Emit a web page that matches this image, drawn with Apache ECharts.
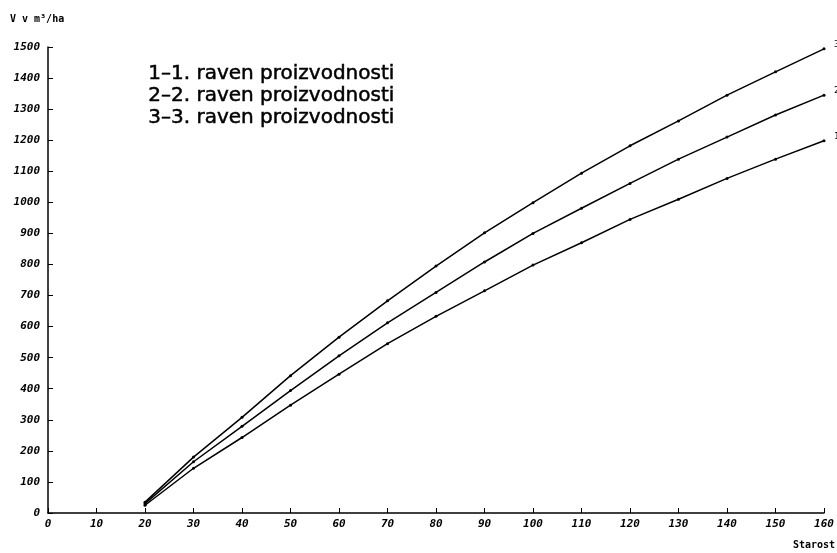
<!DOCTYPE html>
<html>
<head>
<meta charset="utf-8">
<script src="https://cdn.jsdelivr.net/npm/echarts@6/dist/echarts.min.js"></script>
<style>
html, body { margin: 0; padding: 0; background: #fff; }
#chart { width: 837px; height: 553px; }
</style>
</head>
<body>
<div id="chart"></div>
<script>
// starost (leta)
var ages = [20, 30, 40, 50, 60, 70, 80, 90, 100, 110, 120, 130, 140, 150, 160];
// lesna zaloga V v m3/ha po ravneh proizvodnosti
var raven1 = [25, 144, 243, 347, 447, 545, 633, 715, 798, 870, 945, 1010, 1077, 1139, 1198];
var raven2 = [30, 165, 279, 394, 506, 612, 710, 808, 900, 981, 1061, 1139, 1210, 1281, 1345];
var raven3 = [35, 180, 308, 442, 566, 683, 795, 902, 999, 1094, 1182, 1262, 1345, 1420, 1494];
var legendLines = ['1\u20131. raven proizvodnosti', '2\u20132. raven proizvodnosti', '3\u20133. raven proizvodnosti'];

var chart = echarts.init(document.getElementById('chart'));

var tickFont = {
	fontFamily : 'DejaVu Sans Mono',
	fontStyle : 'italic',
	fontWeight : 'bold',
	fontSize : 11,
	color : '#000'
};

function pairs(vals) {
	var out = [];
	for (var i = 0; i < ages.length; i++) {
		out.push([ages[i], vals[i]]);
	}
	return out;
}

function makeSeries(name, vals) {
	return {
		name : name,
		type : 'line',
		data : pairs(vals),
		symbol : 'circle',
		symbolSize : 3,
		smooth : false,
		itemStyle : { color : '#000' },
		lineStyle : { color : '#000', width : 1.5 },
		endLabel : {
			show : true,
			formatter : name,
			offset : [2, -4],
			fontFamily : 'DejaVu Sans Mono',
			fontSize : 9,
			color : '#000'
		},
		animation : false
	};
}

option = {
	backgroundColor : '#fff',
	grid : {
		left : 48,
		right : 13,
		top : 47,
		bottom : 40
	},
	xAxis : {
		type : 'value',
		min : 0,
		max : 160,
		interval : 10,
		axisLine : { lineStyle : { color : '#000', width : 1.5 } },
		axisTick : { inside : true, length : 5, lineStyle : { color : '#000' } },
		splitLine : { show : false },
		axisLabel : Object.assign({ margin : 6, formatter : function (v) { return String(v); } }, tickFont)
	},
	yAxis : {
		type : 'value',
		min : 0,
		max : 1500,
		interval : 100,
		axisLine : { show : true, lineStyle : { color : '#000', width : 1.5 } },
		axisTick : { show : true, inside : true, length : 5, lineStyle : { color : '#000' } },
		splitLine : { show : false },
		axisLabel : Object.assign({ margin : 8, formatter : function (v) { return String(v); } }, tickFont)
	},
	graphic : [{
		type : 'text',
		left : 10,
		top : 14,
		style : {
			text : 'V v m\u00b3/ha',
			font : 'bold 10px "DejaVu Sans Mono"',
			fill : '#000'
		}
	}, {
		type : 'text',
		left : 793,
		top : 540,
		style : {
			text : 'Starost',
			font : 'bold 10px "DejaVu Sans Mono"',
			fill : '#000'
		}
	}, {
		type : 'text',
		left : 148,
		top : 63,
		style : {
			text : legendLines.join('\n'),
			font : '20px "DejaVu Sans"',
			lineHeight : 22,
			fill : '#000',
			stroke : '#000',
			lineWidth : 0.5
		}
	}],
	series : [
		makeSeries('1', raven1),
		makeSeries('2', raven2),
		makeSeries('3', raven3)
	]
};

chart.setOption(option);
</script>
</body>
</html>
